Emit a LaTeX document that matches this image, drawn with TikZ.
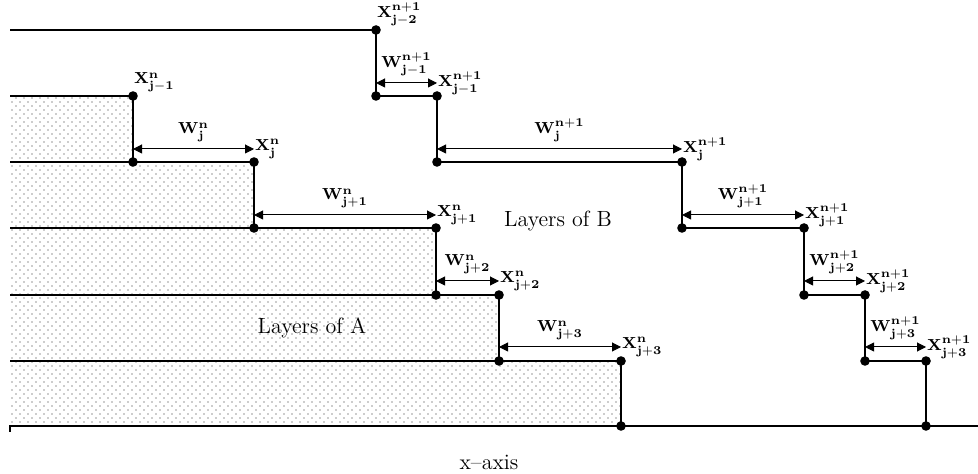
\documentclass[tikz,border=0pt]{standalone}
\usetikzlibrary{arrows.meta,patterns,calc}
\pgfdeclarepatternformonly{fdots}{\pgfqpoint{-0.5pt}{-0.5pt}}{\pgfqpoint{4.5pt}{4.5pt}}{\pgfqpoint{4pt}{4pt}}{%
  \pgfpathcircle{\pgfqpoint{0pt}{0pt}}{0.3pt}%
  \pgfpathcircle{\pgfqpoint{2pt}{2pt}}{0.3pt}%
  \pgfusepath{fill}}
\newcommand{\lbl}[3]{$\mathbf{#1}^{\mathbf{#2}}_{\mathbf{#3}}$}
\begin{document}
\begin{tikzpicture}[x=0.5pt,y=-0.5pt,
  thickline/.style={line width=1.4pt,line join=miter},
  axisline/.style={line width=0.7pt},
  dimline/.style={line width=0.5pt,{Triangle[length=4.5pt,width=4.5pt]}-{Triangle[length=4.5pt,width=4.5pt]}},
  dotn/.style={circle,fill=black,inner sep=0pt,minimum size=4.8pt},
  xlab/.style={font=\fontsize{8.5}{10}\selectfont,inner sep=0.3pt},
  wlab/.style={font=\fontsize{8.5}{10}\selectfont,inner sep=0.3pt,anchor=south},
  txt/.style={font=\fontsize{11}{13}\selectfont,inner sep=0pt}]
\useasboundingbox (0,0) rectangle (978,474);

% ---------- points of A ----------
\coordinate (aL0) at (10,96);
\coordinate (aL1) at (10,162);
\coordinate (aL2) at (10,228);
\coordinate (aL3) at (10,295);
\coordinate (aL4) at (10,361);
\coordinate (ax0) at (10,426);
\coordinate (ax1) at (978,426);
\coordinate (axt) at (10,432);
\coordinate (a0) at (133,96);
\coordinate (a1) at (133,162);
\coordinate (a2) at (254,162);
\coordinate (a3) at (254,228);
\coordinate (a4) at (436,228);
\coordinate (a5) at (436,295);
\coordinate (a6) at (499,295);
\coordinate (a7) at (499,361);
\coordinate (a8) at (621,361);
\coordinate (a9) at (621,426);

% ---------- points of B ----------
\coordinate (bL) at (10,30);
\coordinate (b0) at (376,30);
\coordinate (b1) at (376,96);
\coordinate (b2) at (437,96);
\coordinate (b3) at (437,162);
\coordinate (b4) at (682,162);
\coordinate (b5) at (682,228);
\coordinate (b6) at (804,228);
\coordinate (b7) at (804,295);
\coordinate (b8) at (865,295);
\coordinate (b9) at (865,361);
\coordinate (b10) at (926,361);
\coordinate (b11) at (926,426);

% ---------- fill of A ----------
\fill[pattern=fdots,pattern color=black!85] (aL0) -- (a0) -- (a1) -- (a2) -- (a3) -- (a4) -- (a5) -- (a6) -- (a7) -- (a8) -- (a9) -- (ax0) -- cycle;

% ---------- axis ----------
\draw[axisline] (axt) -- (ax0) -- (ax1);

% ---------- lines of A ----------
\draw[thickline] (aL0) -- (a0) -- (a1);
\draw[thickline] (aL1) -- (a2) -- (a3);
\draw[thickline] (aL2) -- (a4) -- (a5);
\draw[thickline] (aL3) -- (a6) -- (a7);
\draw[thickline] (aL4) -- (a8) -- (a9);

% ---------- lines of B ----------
\draw[thickline] (bL) -- (b0) -- (b1) -- (b2) -- (b3) -- (b4) -- (b5) -- (b6) -- (b7) -- (b8) -- (b9) -- (b10) -- (b11);

% ---------- dots ----------
\foreach \p in {a0,a1,a2,a3,a4,a5,a6,a7,a8,a9,b0,b1,b2,b3,b4,b5,b6,b7,b8,b9,b10,b11}
  \node[dotn] (d\p) at (\p) {};

% ---------- dimension arrows of A ----------
\coordinate (wa1s) at (133,149); \coordinate (wa1e) at (254,149);
\coordinate (wa2s) at (254,215); \coordinate (wa2e) at (436,215);
\coordinate (wa3s) at (436,281); \coordinate (wa3e) at (499,281);
\coordinate (wa4s) at (499,347); \coordinate (wa4e) at (621,347);
\draw[dimline] (wa1s) -- (wa1e);
\draw[dimline] (wa2s) -- (wa2e);
\draw[dimline] (wa3s) -- (wa3e);
\draw[dimline] (wa4s) -- (wa4e);

% ---------- dimension arrows of B ----------
\coordinate (wb0s) at (376,83);  \coordinate (wb0e) at (437,83);
\coordinate (wb1s) at (437,149); \coordinate (wb1e) at (682,149);
\coordinate (wb2s) at (682,215); \coordinate (wb2e) at (804,215);
\coordinate (wb3s) at (804,281); \coordinate (wb3e) at (865,281);
\coordinate (wb4s) at (865,347); \coordinate (wb4e) at (926,347);
\draw[dimline] (wb0s) -- (wb0e);
\draw[dimline] (wb1s) -- (wb1e);
\draw[dimline] (wb2s) -- (wb2e);
\draw[dimline] (wb3s) -- (wb3e);
\draw[dimline] (wb4s) -- (wb4e);

% ---------- X labels ----------
\node[xlab,anchor=south west] (lxa0) at ([yshift=1.5pt]a0) {\lbl{X}{n}{j-1}};
\node[xlab,anchor=west] (lxa1) at (wa1e) {\lbl{X}{n}{j}};
\node[xlab,anchor=west] (lxa2) at (wa2e) {\lbl{X}{n}{j+1}};
\node[xlab,anchor=west] (lxa3) at (wa3e) {\lbl{X}{n}{j+2}};
\node[xlab,anchor=west] (lxa4) at (wa4e) {\lbl{X}{n}{j+3}};
\node[xlab,anchor=south west] (lxb0) at ([yshift=1.5pt]b0) {\lbl{X}{n+1}{j-2}};
\node[xlab,anchor=west] (lxb1) at (wb0e) {\lbl{X}{n+1}{j-1}};
\node[xlab,anchor=west] (lxb2) at (wb1e) {\lbl{X}{n+1}{j}};
\node[xlab,anchor=west] (lxb3) at (wb2e) {\lbl{X}{n+1}{j+1}};
\node[xlab,anchor=west] (lxb4) at (wb3e) {\lbl{X}{n+1}{j+2}};
\node[xlab,anchor=west] (lxb5) at (wb4e) {\lbl{X}{n+1}{j+3}};

% ---------- W labels ----------
\node[wlab] (lwa1) at ([yshift=3pt]$(wa1s)!0.5!(wa1e)$) {\lbl{W}{n}{j}};
\node[wlab] (lwa2) at ([yshift=3pt]$(wa2s)!0.5!(wa2e)$) {\lbl{W}{n}{j+1}};
\node[wlab] (lwa3) at ([yshift=3pt]$(wa3s)!0.5!(wa3e)$) {\lbl{W}{n}{j+2}};
\node[wlab] (lwa4) at ([yshift=3pt]$(wa4s)!0.5!(wa4e)$) {\lbl{W}{n}{j+3}};
\node[wlab] (lwb0) at ([yshift=3pt]$(wb0s)!0.5!(wb0e)$) {\lbl{W}{n+1}{j-1}};
\node[wlab] (lwb1) at ([yshift=3pt]$(wb1s)!0.5!(wb1e)$) {\lbl{W}{n+1}{j}};
\node[wlab] (lwb2) at ([yshift=3pt]$(wb2s)!0.5!(wb2e)$) {\lbl{W}{n+1}{j+1}};
\node[wlab] (lwb3) at ([yshift=3pt]$(wb3s)!0.5!(wb3e)$) {\lbl{W}{n+1}{j+2}};
\node[wlab] (lwb4) at ([yshift=3pt]$(wb4s)!0.5!(wb4e)$) {\lbl{W}{n+1}{j+3}};

% ---------- texts ----------
\node[txt] (tA) at (312,328) {Layers of A};
\node[txt] (tB) at (558,221) {Layers of B};
\node[txt] (tax) at (489,462) {x--axis};
\end{tikzpicture}
\end{document}
